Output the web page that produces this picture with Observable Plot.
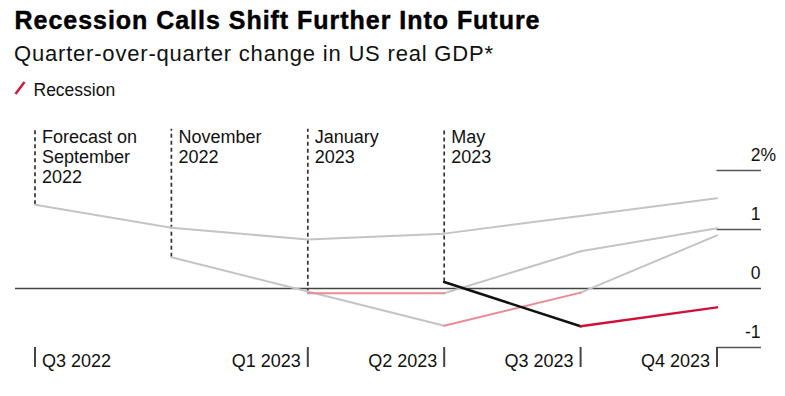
<!DOCTYPE html>
<html>
<head>
<meta charset="utf-8">
<script src="https://cdn.jsdelivr.net/npm/d3@7"></script>
<script src="https://cdn.jsdelivr.net/npm/@observablehq/plot@0.6"></script>
<style>
  body { margin: 0; background: #fff; font-family: "Liberation Sans", Arial, Helvetica, sans-serif; color: #111; }
  #wrap { position: relative; width: 785px; height: 396px; overflow: hidden; }
  #header { position: relative; height: 110px; }
  .h { position: absolute; white-space: nowrap; line-height: 1; }
  #title { left: 14.5px; top: 7.9px; font-size: 25px; font-weight: bold; color: #000; -webkit-text-stroke: 0.45px #000; }
  #subtitle { left: 14px; top: 43.4px; font-size: 22px; color: #111; }
  #legend { left: 33.5px; top: 82.2px; font-size: 17.5px; color: #111; }
  #swatch { position: absolute; left: 0; top: 0; }
  #chart svg { display: block; }
</style>
</head>
<body>
<div id="wrap">
  <div id="header">
    <div class="h" id="title"></div>
    <div class="h" id="subtitle"></div>
    <svg id="swatch" width="40" height="110"><line x1="15.5" y1="94" x2="24.5" y2="82" stroke="#d0213c" stroke-width="2.6"/></svg>
    <div class="h" id="legend"></div>
  </div>
  <div id="chart"></div>
</div>
<script>
// ---- Text ----
const titleText = "Recession Calls Shift Further Into Future";
const subtitleText = "Quarter-over-quarter change in US real GDP*";
const legendText = "Recession";

// ---- Categories ----
const quarters = ["Q3 2022", "Q4 2022", "Q1 2023", "Q2 2023", "Q3 2023", "Q4 2023"];
const tickQuarters = ["Q3 2022", "Q1 2023", "Q2 2023", "Q3 2023", "Q4 2023"];
const forecastNames = ["Forecast on\nSeptember\n2022", "November\n2022", "January\n2023", "May\n2023"];

// ---- Series values (QoQ % change) per forecast ----
const sep2022 = [1.42, 1.03, 0.83, 0.93, 1.23, 1.53];
const nov2022 = [null, 0.53, -0.05, -0.63, -0.07, 0.90];
const jan2023 = [null, null, -0.08, -0.08, 0.63, 1.02];
const may2023 = [null, null, null, 0.11, -0.64, -0.32];

// segment kind, keyed by the segment's starting quarter
const sep2022Seg = ["base", "base", "base", "base", "base"];
const nov2022Seg = [null, "base", "base", "recession", "base"];
const jan2023Seg = [null, null, "recession", "base", "base"];
const may2023Seg = [null, null, null, "latest", "latestRecession"];

// ---- Axis ticks ----
const yTicks = [2, 1, 0, -1];

// ---- Build tables ----
const forecastValues = [sep2022, nov2022, jan2023, may2023];
const forecastSegs = [sep2022Seg, nov2022Seg, jan2023Seg, may2023Seg];
const segments = [];
const starts = [];
forecastValues.forEach((vals, f) => {
  const first = vals.findIndex(v => v != null);
  starts.push({x: first, y: vals[first], label: forecastNames[f]});
  for (let i = 0; i < vals.length - 1; i++) {
    if (vals[i] == null || vals[i + 1] == null) continue;
    segments.push({x1: i, y1: vals[i], x2: i + 1, y2: vals[i + 1], kind: forecastSegs[f][i]});
  }
});
const qIndex = q => quarters.indexOf(q);

// ---- Header text, fitted to the reference widths ----
function fitText(id, text, target) {
  const el = document.getElementById(id);
  el.textContent = text;
  const cs = getComputedStyle(el);
  const ctx = document.createElement("canvas").getContext("2d");
  ctx.font = `${cs.fontWeight} ${cs.fontSize} ${cs.fontFamily}`;
  const w = ctx.measureText(text).width;
  el.style.letterSpacing = ((target - w) / (text.length - 1)) + "px";
}
fitText("title", titleText, 525);
fitText("subtitle", subtitleText, 479);
document.getElementById("legend").textContent = legendText;

// ---- Chart ----
const gridEnd = 5.326;    // right end of the gridline stubs
const zeroStart = -0.143; // left end of the zero line
const labelTop = 2.7;

const colors = {base: "#c4c4c4", recession: "#e98a97", latest: "#111111", latestRecession: "#d0103a"};
const widths = {base: 2, recession: 2, latest: 2.5, latestRecession: 2.5};
const linkFor = kind => Plot.link(segments.filter(d => d.kind === kind), {
  x1: "x1", y1: "y1", x2: "x2", y2: "y2",
  stroke: colors[kind], strokeWidth: widths[kind], strokeLinecap: "round"
});

const plot = Plot.plot({
  width: 785,
  height: 286,
  marginLeft: 34.5,
  marginRight: 68.5,
  marginTop: 60,
  marginBottom: 49,
  x: {domain: [0, 5], axis: null},
  y: {domain: [-1, 2], axis: null},
  style: {fontFamily: '"Liberation Sans", Arial, Helvetica, sans-serif', color: "#111", background: "#fff"},
  marks: [
    // zero line
    Plot.ruleY([0], {x1: zeroStart, x2: gridEnd, stroke: "#444", strokeWidth: 1.5}),
    // gridline stubs on the right
    Plot.ruleY(yTicks.filter(d => d !== 0), {x1: 5, x2: gridEnd, stroke: "#555", strokeWidth: 1.6}),
    // y labels
    Plot.text(yTicks, {x: gridEnd, y: d => d, text: d => String(d), textAnchor: "end", lineAnchor: "bottom", dx: -1, dy: -10, fontSize: 17.5, fill: "#111"}),
    Plot.text(yTicks.filter(d => d === yTicks[0]), {x: gridEnd, y: d => d, text: () => "%", textAnchor: "start", lineAnchor: "bottom", dx: -1, dy: -10, fontSize: 17.5, fill: "#111"}),
    // x ticks
    Plot.axisX({ticks: tickQuarters.map(qIndex), tickSize: 20, tickFormat: () => "", stroke: "#444", strokeWidth: 2, label: null, anchor: "bottom"}),
    // x labels
    Plot.text(tickQuarters.slice(0, 1), {x: qIndex, y: -1, text: d => d, textAnchor: "start", lineAnchor: "bottom", dx: 7, dy: 19, fontSize: 18, fill: "#111"}),
    Plot.text(tickQuarters.slice(1), {x: qIndex, y: -1, text: d => d, textAnchor: "end", lineAnchor: "bottom", dx: -7, dy: 19, fontSize: 18, fill: "#111"}),
    // dashed forecast-date markers
    Plot.ruleX(starts, {x: "x", y1: "y", y2: labelTop, stroke: "#333", strokeWidth: 1.7, strokeDasharray: "4,3"}),
    Plot.text(starts, {x: "x", y: labelTop, text: "label", textAnchor: "start", lineAnchor: "top", dx: 7, dy: -0.5, fontSize: 18, lineHeight: 1.12, fill: "#111"}),
    // forecast lines
    linkFor("base"),
    linkFor("recession"),
    linkFor("latest"),
    linkFor("latestRecession")
  ]
});
document.getElementById("chart").appendChild(plot);
</script>
</body>
</html>
